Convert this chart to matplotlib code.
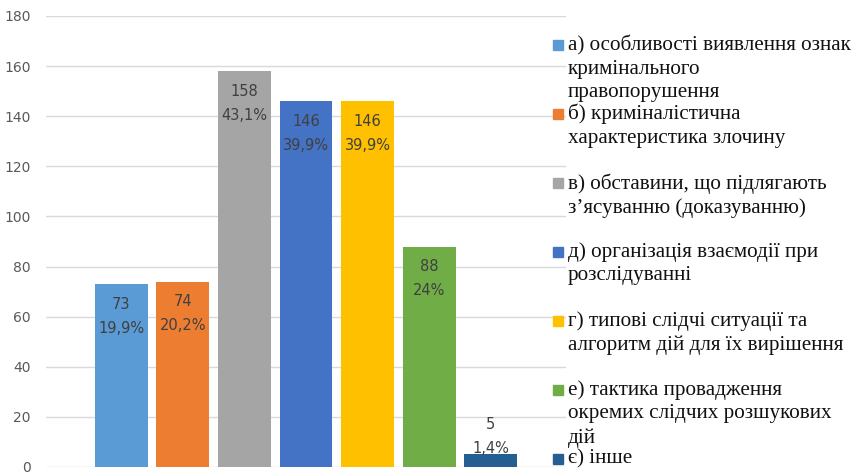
import numpy as np
import matplotlib.pyplot as plt
from matplotlib.patches import Rectangle

labels = [
    "а) особливості виявлення ознак\nкримінального\nправопорушення",
    "б) криміналістична\nхарактеристика злочину",
    "в) обставини, що підлягають\nз’ясуванню (доказуванню)",
    "д) організація взаємодії при\nрозслідуванні",
    "г) типові слідчі ситуації та\nалгоритм дій для їх вирішення",
    "е) тактика провадження\nокремих слідчих розшукових\nдій",
    "є) інше",
]
values = [73, 74, 158, 146, 146, 88, 5]
percents = ["19,9%", "20,2%", "43,1%", "39,9%", "39,9%", "24%", "1,4%"]
colors = ["#5B9BD5", "#ED7D31", "#A5A5A5", "#4472C4", "#FFC000", "#70AD47", "#255E91"]

fig = plt.figure(figsize=(8.54, 4.74), dpi=100)
ax = fig.add_axes([46 / 854, 7 / 474, 520 / 854, 451 / 474])

x = np.arange(len(values))
ax.bar(x, values, width=0.86, color=colors, zorder=3)

for xi, v, p in zip(x, values, percents):
    if v > 20:
        ax.annotate(f"{v}\n{p}", (xi, v), xytext=(0, -9), textcoords="offset points",
                    ha="center", va="top", fontsize=10.5, color="#404040",
                    linespacing=1.75, zorder=4)
    else:
        ax.annotate(f"{v}\n{p}", (xi, v), xytext=(0, -1), textcoords="offset points",
                    ha="center", va="bottom", fontsize=10.5, color="#404040",
                    linespacing=1.75, zorder=4)

ax.set_ylim(0, 180)
ax.set_yticks(np.arange(0, 181, 20))
ax.set_xlim(-1.22, 6.22 + 1.0)
ax.set_xticks([])
ax.grid(axis="y", color="#D9D9D9", linewidth=1, zorder=0)
for s in ax.spines.values():
    s.set_visible(False)
ax.tick_params(axis="y", length=0, pad=11, labelsize=10, labelcolor="#595959")

# legend drawn by hand, Excel-style fixed spacing
top = 45
step = 69
for i, (lab, c) in enumerate(zip(labels, colors)):
    yc = top + i * step
    fig.patches.append(Rectangle((553 / 854, 1 - (yc + 5) / 474), 10 / 854, 10 / 474,
                                 transform=fig.transFigure, color=c))
    fig.text(568 / 854, 1 - (yc - 10) / 474, lab, ha="left", va="top",
             fontsize=15.2, family="Liberation Serif", color="#111111", linespacing=1.33)

fig.savefig("out.png", dpi=100)
